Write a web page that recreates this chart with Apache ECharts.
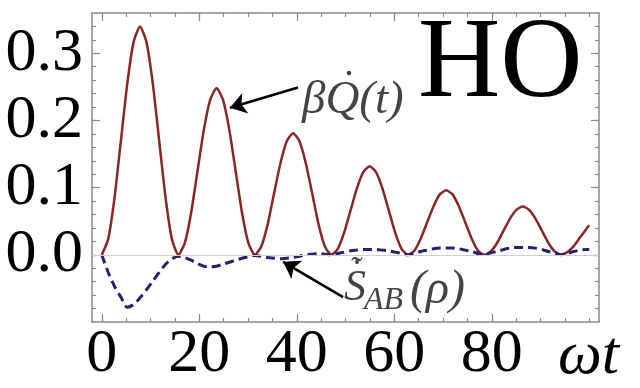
<!DOCTYPE html>
<html>
<head>
<meta charset="utf-8">
<script src="https://cdn.jsdelivr.net/npm/echarts@6/dist/echarts.min.js"></script>
<style>
  html, body { margin: 0; padding: 0; background: #fff; }
  #chart { width: 640px; height: 388px; }
</style>
</head>
<body>
<div id="chart"></div>
<script>
// omega t samples (denser inside each arch)
var tVals = [
  0, 1.31, 2.62, 3.93, 5.24, 6.54, 7.85, 9.16, 10.47, 11.78, 13.09, 14.4, 15.7,
  17.01, 18.32, 19.63, 20.94, 22.25, 23.55, 24.86, 26.17, 27.48, 28.79, 30.1, 31.4,
  32.71, 34.02, 35.33, 36.64, 37.95, 39.25, 40.56, 41.87, 43.18, 44.49, 45.8, 47.1,
  48.41, 49.72, 51.03, 52.34, 53.65, 54.95, 56.26, 57.57, 58.88, 60.19, 61.5, 62.8,
  64.11, 65.42, 66.73, 68.04, 69.35, 70.65, 71.96, 73.27, 74.58, 75.89, 77.2, 78.5,
  79.81, 81.12, 82.43, 83.74, 85.05, 86.35, 87.66, 88.97, 90.28, 91.59, 92.9, 94.2,
  95.51, 96.82, 98.13, 99.44, 100
];
// beta Qdot(t), red solid
var heatVals = [
  0, .023, .085, .170, .255, .317, .340, .317, .255, .170, .085, .023, 0,
  .017, .062, .124, .186, .231, .248, .231, .186, .124, .062, .017, 0,
  .012, .045, .091, .136, .169, .181, .169, .136, .091, .045, .012, 0,
  .009, .033, .066, .099, .123, .132, .123, .099, .066, .033, .009, 0,
  .006, .024, .048, .072, .090, .096, .090, .072, .048, .024, .006, 0,
  .005, .018, .036, .054, .067, .072, .067, .054, .036, .018, .005, 0,
  .004, .013, .026, .039, .044
];
// S_AB(rho) rate, blue dashed
var entVals = [
  0, -.026, -.047, -.063, -.078, -.074, -.064, -.052, -.039, -.026, -.014, -.006, -.002,
  -.004, -.008, -.013, -.017, -.018, -.017, -.014, -.011, -.008, -.005, -.003, -.001,
  -.002, -.004, -.005, -.006, -.005, -.004, -.002, 0, .001, .002, .001, 0,
  .002, .004, .006, .007, .008, .008, .008, .007, .006, .004, .002, 0,
  .002, .005, .007, .009, .010, .010, .010, .009, .007, .005, .002, 0,
  .003, .005, .008, .010, .011, .011, .011, .010, .008, .005, .003, 0,
  .002, .005, .007, .008, .008
];
var xMajor = [0, 20, 40, 60, 80];
var xMinor = [0, 5, 10, 15, 20, 25, 30, 35, 40, 45, 50, 55, 60, 65, 70, 75, 80, 85, 90, 95, 100];
var yMajor = [0, 0.1, 0.2, 0.3];
var yMinor = [-0.08, -0.06, -0.04, -0.02, 0, 0.02, 0.04, 0.06, 0.08, 0.1, 0.12, 0.14, 0.16, 0.18,
  0.2, 0.22, 0.24, 0.26, 0.28, 0.3, 0.32, 0.34];

var frameColor = '#8a8a8a';
var serif = 'Liberation Serif';

function makeX(pos, ticks, len, showLine, showLabel) {
  return {
    type: 'value', position: pos, min: -2, max: 102,
    axisLine: { show: showLine, onZero: false, lineStyle: { color: frameColor, width: 1.5 } },
    axisTick: { show: true, inside: true, length: len, customValues: ticks,
      lineStyle: { color: frameColor, width: 1.2 } },
    axisLabel: { show: showLabel, customValues: xMajor, margin: 2,
      fontFamily: serif, fontSize: 62, color: '#000' },
    splitLine: { show: false }
  };
}
function makeY(pos, ticks, len, showLine, showLabel) {
  return {
    type: 'value', position: pos, min: -0.1, max: 0.36,
    axisLine: { show: showLine, onZero: false, lineStyle: { color: frameColor, width: 1.5 } },
    axisTick: { show: true, inside: true, length: len, customValues: ticks,
      lineStyle: { color: frameColor, width: 1.2 } },
    axisLabel: { show: showLabel, customValues: yMajor, margin: 9,
      fontFamily: serif, fontSize: 62, color: '#000',
      formatter: function (v) { return v.toFixed(1); } },
    splitLine: { show: false }
  };
}

var chart = echarts.init(document.getElementById('chart'));
chart.setOption({
  animation: false,
  grid: { left: 92, top: 13, right: 41, bottom: 66 },
  xAxis: [
    makeX('bottom', xMajor, 8, true, true),
    makeX('bottom', xMinor, 4, false, false),
    makeX('top', xMajor, 8, true, false),
    makeX('top', xMinor, 4, false, false)
  ],
  yAxis: [
    makeY('left', yMajor, 8, true, true),
    makeY('left', yMinor, 4, false, false),
    makeY('right', yMajor, 8, true, false),
    makeY('right', yMinor, 4, false, false)
  ],
  series: [
    {
      // faint zero line
      type: 'line', data: [], z: 1, silent: true,
      markLine: { symbol: 'none', silent: true, label: { show: false },
        lineStyle: { color: '#d0d0d0', width: 1, type: 'solid' },
        data: [{ yAxis: 0 }] }
    },
    {
      type: 'line', name: 'heat', z: 3,
      data: tVals.map(function (t, i) { return [t, heatVals[i]]; }),
      showSymbol: false, smooth: 0.2,
      lineStyle: { color: '#8b2626', width: 2.5 }
    },
    {
      type: 'line', name: 'entropy', z: 4,
      data: tVals.map(function (t, i) { return [t, entVals[i]]; }),
      showSymbol: false, smooth: 0.3,
      lineStyle: { color: '#22226e', width: 3, type: [9, 5] }
    },
    {
      // annotation arrows
      type: 'line', data: [], z: 5, silent: true,
      markLine: {
        silent: true, symbol: ['none', 'arrow'], symbolSize: 16,
        label: { show: false },
        itemStyle: { color: '#000' },
        lineStyle: { color: '#000', width: 2.5, type: 'solid' },
        data: [
          [{ coord: [40.26, 0.249] }, { coord: [26.3, 0.219] }],
          [{ coord: [49.5, -0.063] }, { coord: [37.2, -0.0104] }]
        ]
      }
    }
  ],
  graphic: [
    { type: 'text', left: 418, top: 9, z: 10,
      style: { text: 'HO', font: '114px "Liberation Serif"', fill: '#000' } },
    { type: 'text', x: 302, y: 101, z: 10,
      style: { text: 'βQ(t)', font: 'italic 47px "Liberation Serif"', fill: '#444', verticalAlign: 'middle' } },
    { type: 'circle', shape: { cx: 349, cy: 73, r: 2.3 }, z: 10, style: { fill: '#444' } },
    { type: 'text', x: 344, y: 288, z: 10,
      style: { text: 'S', font: 'italic 44px "Liberation Serif"', fill: '#444', verticalAlign: 'middle' } },
    { type: 'text', x: 357, y: 271, z: 10,
      style: { text: '˜', font: '34px "Liberation Serif"', fill: '#444', align: 'center', verticalAlign: 'middle' } },
    { type: 'circle', shape: { cx: 357, cy: 262, r: 2 }, z: 10, style: { fill: '#444' } },
    { type: 'text', x: 364, y: 301, z: 10,
      style: { text: 'AB', font: 'italic 32px "Liberation Serif"', fill: '#444', verticalAlign: 'middle' } },
    { type: 'text', x: 410, y: 290, z: 10,
      style: { text: '(ρ)', font: 'italic 48px "Liberation Serif"', fill: '#444', verticalAlign: 'middle' } },
    { type: 'text', x: 558, y: 357, z: 10,
      style: { text: 'ωt', font: 'italic 62px "Liberation Serif"', fill: '#000', verticalAlign: 'middle' } }
  ]
});
</script>
</body>
</html>
